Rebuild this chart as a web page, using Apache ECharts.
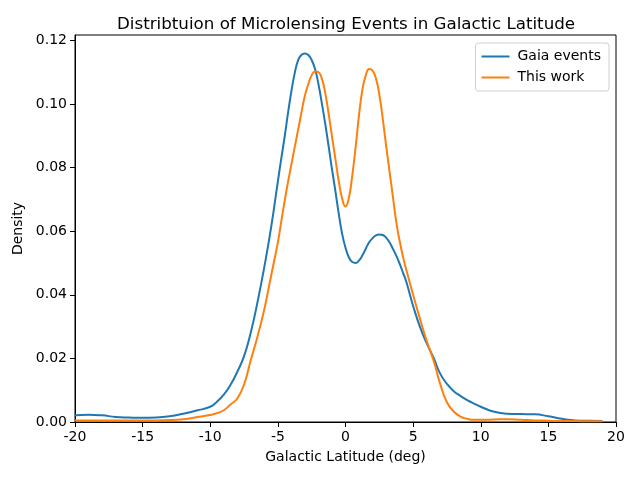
<!DOCTYPE html>
<html>
<head>
<meta charset="utf-8">
<script src="https://cdn.jsdelivr.net/npm/echarts@6/dist/echarts.min.js"></script>
<style>
  html, body { margin: 0; padding: 0; background: #fff; }
  #chart { width: 640px; height: 480px; }
</style>
</head>
<body>
<div id="chart"></div>
<script>
// latitude sample points (deg), denser around the peaks
const latitudes = [
  -20, -19, -18, -17, -16, -15, -14, -13, -12, -11,
  -10, -9.5, -9, -8.5, -8, -7.5, -7, -6.5, -6, -5.5,
  -5, -4.75, -4.5, -4.25, -4, -3.75, -3.5, -3.25, -3, -2.75,
  -2.5, -2.25, -2, -1.75, -1.5, -1.25, -1, -0.75, -0.5, -0.25,
  0, 0.25, 0.5, 0.75, 1, 1.25, 1.5, 1.75, 2, 2.25,
  2.5, 2.75, 3, 3.25, 3.5, 3.75, 4, 4.25, 4.5, 5,
  5.5, 6, 6.5, 7, 7.5, 8, 8.5, 9, 9.5, 10,
  11, 12, 13, 14, 15, 16, 17, 18, 19
];
// KDE density
const gaiaDensity = [
  0.0021, 0.0023, 0.0021, 0.0016, 0.0014, 0.0013, 0.0014, 0.0018, 0.0026, 0.0036,
  0.0048, 0.0064, 0.0086, 0.0117, 0.0158, 0.0207, 0.0282, 0.0378, 0.0488, 0.0612,
  0.0757, 0.0828, 0.0897, 0.0972, 0.1040, 0.1098, 0.1138, 0.1155, 0.1159, 0.1154,
  0.1138, 0.1110, 0.1062, 0.1003, 0.0938, 0.0868, 0.0795, 0.0727, 0.0655, 0.0592,
  0.0548, 0.0518, 0.0503, 0.0500, 0.0508, 0.0524, 0.0545, 0.0565, 0.0578, 0.0587,
  0.0590, 0.0588, 0.0580, 0.0565, 0.0545, 0.0523, 0.0498, 0.0470, 0.0440, 0.0365,
  0.0300, 0.0248, 0.0203, 0.0152, 0.0120, 0.0097, 0.0082, 0.0069, 0.0058, 0.0048,
  0.0032, 0.0026, 0.0025, 0.0024, 0.0018, 0.0010, 0.0005, 0.0004, 0.0003
];
const thisWorkDensity = [
  0.0005, 0.0005, 0.0005, 0.0005, 0.0005, 0.0005, 0.0005, 0.0006, 0.0009, 0.0015,
  0.0022, 0.0028, 0.0037, 0.0055, 0.0074, 0.0118, 0.0195, 0.0270, 0.0355, 0.0460,
  0.0565, 0.0630, 0.0695, 0.0755, 0.0810, 0.0865, 0.0920, 0.0975, 0.1027, 0.1063,
  0.1090, 0.1102, 0.1100, 0.1080, 0.1035, 0.0970, 0.0898, 0.0828, 0.0758, 0.0703,
  0.0678, 0.0705, 0.0775, 0.0865, 0.0965, 0.1045, 0.1090, 0.1110, 0.1105, 0.1080,
  0.1030, 0.0955, 0.0870, 0.0790, 0.0710, 0.0630, 0.0570, 0.0520, 0.0478, 0.0400,
  0.0325, 0.0255, 0.0195, 0.0120, 0.0062, 0.0033, 0.0017, 0.0010, 0.0007, 0.0007,
  0.0008, 0.0009, 0.0007, 0.0005, 0.0004, 0.0003, 0.0003, 0.0002, 0.0002
];
const xTicks = [-20, -15, -10, -5, 0, 5, 10, 15, 20];
const yTicks = [0, 0.02, 0.04, 0.06, 0.08, 0.10, 0.12];

const FONT = 'DejaVu Sans';

const pairs = (xs, ys) => xs.map((x, i) => [x, ys[i]]);

const chart = echarts.init(document.getElementById('chart'), null, { renderer: 'canvas' });

const option = {
  animation: false,
  backgroundColor: '#fff',
  title: {
    text: 'Distribtuion of Microlensing Events in Galactic Latitude',
    left: 112,
    top: 11,
    textStyle: { fontFamily: FONT, fontSize: 16.7, fontWeight: 'normal', color: '#000' }
  },
  legend: {
    orient: 'vertical',
    right: 31,
    top: 43,
    padding: [6, 8, 6, 6],
    backgroundColor: '#fff',
    borderColor: '#d0d0d0',
    borderWidth: 1,
    borderRadius: 3,
    icon: 'rect',
    itemWidth: 28,
    itemHeight: 2,
    itemGap: 6,
    textStyle: { fontFamily: FONT, fontSize: 14, color: '#000', lineHeight: 15, padding: [0, 0, 0, 3] },
    data: ['Gaia events', 'This work']
  },
  grid: {
    left: 75, right: 24, top: 35, bottom: 58,
    show: true, borderColor: '#000', borderWidth: 1
  },
  xAxis: {
    type: 'value',
    min: -20, max: 20, interval: 5,
    name: 'Galactic Latitude (deg)',
    nameLocation: 'middle',
    nameGap: 28,
    nameTextStyle: { fontFamily: FONT, fontSize: 14, color: '#000' },
    axisLine: { onZero: false, lineStyle: { color: '#000', width: 1 } },
    axisTick: { length: 5, lineStyle: { color: '#000' }, customValues: xTicks },
    axisLabel: { fontFamily: FONT, fontSize: 14, color: '#000', margin: 8, customValues: xTicks },
    splitLine: { show: false }
  },
  yAxis: {
    type: 'value',
    min: 0, max: 0.1217,
    name: 'Density',
    nameLocation: 'middle',
    nameGap: 42,
    nameTextStyle: { fontFamily: FONT, fontSize: 14, color: '#000' },
    axisLine: { show: true, onZero: false, lineStyle: { color: '#000', width: 1 } },
    axisTick: { show: true, length: 5, lineStyle: { color: '#000' }, customValues: yTicks },
    axisLabel: {
      fontFamily: FONT, fontSize: 14, color: '#000', margin: 8,
      customValues: yTicks,
      formatter: v => v.toFixed(2)
    },
    splitLine: { show: false }
  },
  series: [
    {
      name: 'Gaia events',
      type: 'line',
      data: pairs(latitudes, gaiaDensity),
      smooth: 0.5,
      showSymbol: false,
      color: '#1f77b4',
      lineStyle: { width: 2, color: '#1f77b4' }
    },
    {
      name: 'This work',
      type: 'line',
      data: pairs(latitudes, thisWorkDensity),
      smooth: 0.5,
      showSymbol: false,
      color: '#ff7f0e',
      lineStyle: { width: 2, color: '#ff7f0e' }
    }
  ]
};

chart.setOption(option);
</script>
</body>
</html>
